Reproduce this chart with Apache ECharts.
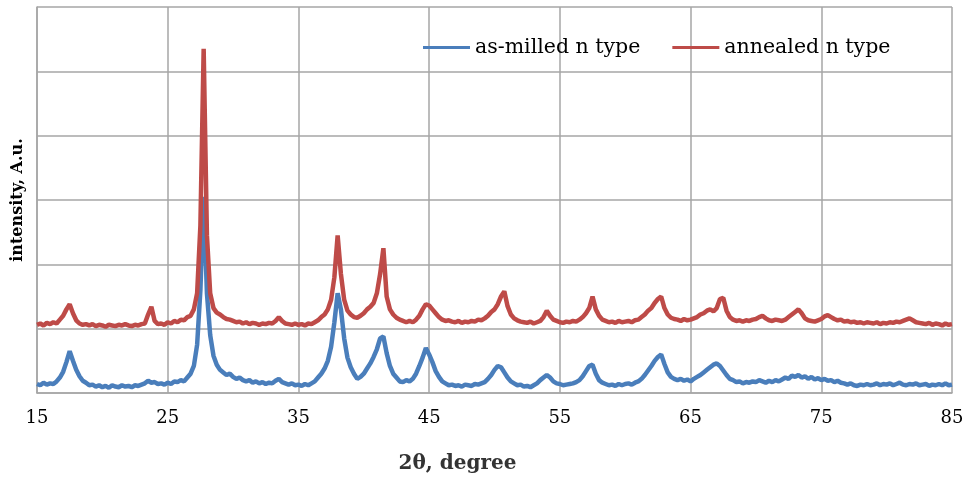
<!DOCTYPE html>
<html>
<head>
<meta charset="utf-8">
<script src="https://cdn.jsdelivr.net/npm/echarts@6/dist/echarts.min.js"></script>
<style>html,body{margin:0;padding:0;background:#fff}#c{width:967px;height:479px}</style>
</head>
<body>
<div id="c"></div>
<script>
// 2θ sampling: start 15°, step 0.25°
const thetaStart = 15;
const thetaStep = 0.25;
const xTicks = [15, 25, 35, 45, 55, 65, 75, 85];
const seriesNames = ['as-milled n type', 'annealed n type'];

const asMilled = [
  0.14,0.12,0.16,0.13, 0.15,0.14,0.18,0.24, 0.33,0.48,0.65,0.50, 0.36,0.26,0.19,0.16,
  0.12,0.13,0.10,0.12, 0.09,0.11,0.08,0.12, 0.10,0.09,0.12,0.10, 0.11,0.09,0.12,0.11,
  0.13,0.15,0.19,0.16, 0.17,0.14,0.15,0.13, 0.16,0.14,0.18,0.17, 0.20,0.18,0.24,0.30,
  0.42,0.75,1.60,3.05, 1.55,0.90,0.58,0.44, 0.36,0.32,0.28,0.30, 0.25,0.22,0.24,0.20,
  0.18,0.20,0.16,0.18, 0.15,0.17,0.14,0.16, 0.15,0.19,0.22,0.17, 0.15,0.13,0.15,0.12,
  0.13,0.11,0.14,0.12, 0.15,0.18,0.24,0.30, 0.38,0.50,0.72,1.10, 1.55,1.30,0.85,0.55,
  0.40,0.30,0.22,0.25, 0.30,0.38,0.46,0.56, 0.68,0.85,0.88,0.62, 0.42,0.30,0.24,0.18,
  0.17,0.20,0.18,0.22, 0.30,0.42,0.55,0.70, 0.60,0.48,0.34,0.25, 0.18,0.15,0.12,0.13,
  0.11,0.12,0.10,0.13, 0.12,0.11,0.14,0.13, 0.15,0.17,0.22,0.28, 0.36,0.42,0.40,0.32,
  0.24,0.18,0.15,0.12, 0.13,0.10,0.11,0.09, 0.12,0.15,0.20,0.24, 0.28,0.24,0.18,0.15,
  0.14,0.12,0.13,0.14, 0.15,0.17,0.20,0.26, 0.34,0.42,0.44,0.30, 0.20,0.16,0.14,0.12,
  0.13,0.11,0.14,0.12, 0.14,0.15,0.13,0.16, 0.18,0.22,0.28,0.35, 0.42,0.50,0.56,0.60,
  0.45,0.32,0.25,0.22, 0.20,0.22,0.19,0.21, 0.18,0.22,0.25,0.28, 0.32,0.36,0.40,0.44,
  0.46,0.42,0.35,0.28, 0.22,0.20,0.17,0.18, 0.15,0.17,0.16,0.18, 0.17,0.20,0.18,0.16,
  0.19,0.17,0.20,0.18, 0.21,0.24,0.22,0.27, 0.25,0.28,0.24,0.26, 0.22,0.25,0.21,0.23,
  0.20,0.22,0.19,0.20, 0.17,0.19,0.16,0.15, 0.13,0.15,0.12,0.11, 0.13,0.12,0.14,0.12,
  0.13,0.15,0.12,0.14, 0.13,0.15,0.12,0.14, 0.16,0.13,0.12,0.14, 0.13,0.15,0.12,0.13,
  0.14,0.11,0.13,0.12, 0.14,0.12,0.15,0.12, 0.13
];

const annealed = [
  1.06,1.08,1.05,1.09, 1.07,1.10,1.08,1.14, 1.20,1.30,1.38,1.24, 1.13,1.08,1.06,1.07,
  1.05,1.07,1.04,1.06, 1.05,1.03,1.06,1.05, 1.04,1.06,1.05,1.07, 1.05,1.04,1.06,1.05,
  1.07,1.08,1.22,1.34, 1.12,1.07,1.08,1.06, 1.10,1.08,1.12,1.10, 1.14,1.13,1.18,1.20,
  1.30,1.55,2.60,5.35, 2.45,1.55,1.32,1.25, 1.22,1.18,1.15,1.14, 1.12,1.10,1.11,1.08,
  1.10,1.07,1.09,1.08, 1.06,1.08,1.07,1.09, 1.08,1.12,1.18,1.12, 1.08,1.07,1.06,1.08,
  1.06,1.07,1.05,1.08, 1.07,1.10,1.13,1.18, 1.22,1.30,1.45,1.80, 2.45,1.85,1.45,1.28,
  1.22,1.18,1.17,1.20, 1.24,1.30,1.34,1.40, 1.55,1.85,2.25,1.50, 1.30,1.22,1.17,1.14,
  1.12,1.10,1.12,1.10, 1.14,1.20,1.30,1.38, 1.36,1.30,1.24,1.18, 1.14,1.12,1.13,1.11,
  1.10,1.12,1.09,1.11, 1.10,1.12,1.11,1.14, 1.13,1.16,1.20,1.26, 1.30,1.38,1.50,1.58,
  1.35,1.22,1.16,1.13, 1.11,1.10,1.09,1.11, 1.08,1.10,1.12,1.18, 1.28,1.20,1.14,1.12,
  1.10,1.09,1.11,1.10, 1.12,1.11,1.14,1.18, 1.24,1.32,1.50,1.30, 1.20,1.14,1.12,1.10,
  1.11,1.09,1.12,1.10, 1.11,1.12,1.10,1.13, 1.14,1.18,1.22,1.28, 1.32,1.40,1.46,1.50,
  1.32,1.22,1.17,1.15, 1.14,1.12,1.15,1.13, 1.14,1.16,1.18,1.22, 1.24,1.28,1.30,1.27,
  1.32,1.46,1.48,1.28, 1.18,1.14,1.12,1.13, 1.11,1.13,1.12,1.14, 1.15,1.18,1.20,1.16,
  1.13,1.12,1.14,1.13, 1.12,1.14,1.18,1.22, 1.26,1.30,1.24,1.16, 1.13,1.12,1.11,1.13,
  1.15,1.19,1.21,1.18, 1.15,1.13,1.14,1.11, 1.12,1.10,1.11,1.09, 1.10,1.08,1.10,1.09,
  1.08,1.10,1.07,1.09, 1.08,1.10,1.09,1.11, 1.10,1.12,1.14,1.16, 1.13,1.10,1.09,1.08,
  1.07,1.09,1.06,1.08, 1.07,1.05,1.08,1.06, 1.07
];

function pairs(vals) {
  return vals.map((v, i) => [thetaStart + i * thetaStep, v]);
}

const chart = echarts.init(document.getElementById('c'), null, {renderer: 'canvas'});
const serif = 'DejaVu Serif';
const gridColor = '#a6a6a6';
chart.setOption({
  animation: false,
  backgroundColor: '#fff',
  color: ['#4a7ebb', '#be4b48'],
  grid: {left: 37, right: 15, top: 7, bottom: 83, containLabel: false},
  legend: {
    data: seriesNames,
    left: 423, top: 37, padding: 0,
    itemWidth: 47, itemHeight: 3, itemGap: 32,
    icon: 'rect',
    textStyle: {fontFamily: serif, fontSize: 20.5, color: '#000', padding: [0, 0, 0, 0]}
  },
  xAxis: {
    type: 'value', min: 15, max: 85, interval: 10,
    name: '2θ, degree', nameLocation: 'middle', nameGap: 61,
    nameTextStyle: {fontFamily: serif, fontWeight: 'bold', fontSize: 20, color: '#333',
      padding: [0, 74, 0, 0]},
    axisLine: {show: true, lineStyle: {color: gridColor, width: 1.5}},
    axisTick: {show: false},
    axisLabel: {fontFamily: serif, fontSize: 18, color: '#000', margin: 16,
      formatter: v => xTicks.includes(v) ? String(v) : ''},
    splitLine: {show: true, lineStyle: {color: gridColor, width: 1.5}}
  },
  yAxis: {
    type: 'value', min: 0, max: 6, interval: 1,
    name: 'intensity, A.u.', nameLocation: 'middle', nameGap: 11,
    nameTextStyle: {fontFamily: serif, fontWeight: 'bold', fontSize: 16, color: '#000'},
    axisLine: {show: true, lineStyle: {color: gridColor, width: 1.5}},
    axisTick: {show: false},
    axisLabel: {show: false},
    splitLine: {show: true, lineStyle: {color: gridColor, width: 1.5}}
  },
  series: [
    {name: seriesNames[0], type: 'line', data: pairs(asMilled), showSymbol: false,
      lineStyle: {width: 4.5, color: '#4a7ebb'}, itemStyle: {color: '#4a7ebb'}},
    {name: seriesNames[1], type: 'line', data: pairs(annealed), showSymbol: false,
      lineStyle: {width: 4.5, color: '#be4b48'}, itemStyle: {color: '#be4b48'}}
  ]
});
</script>
</body>
</html>
